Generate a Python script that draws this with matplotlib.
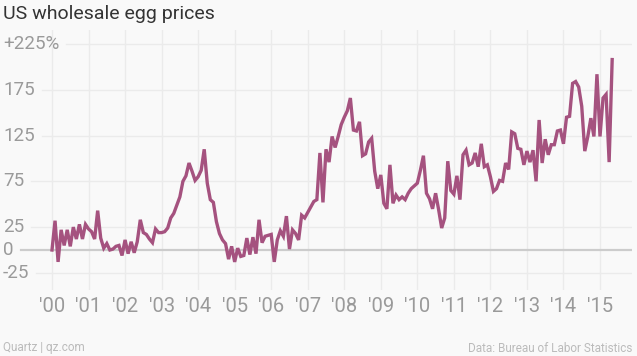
import numpy as np
import matplotlib
matplotlib.use("Agg")
from matplotlib import pyplot as plt
from matplotlib import transforms

plt.rcParams['font.family'] = ['Roboto', 'DejaVu Sans']

# monthly change in wholesale egg prices (%), Jan 2000 - May 2015
y2000 = [0, 32, -13, 22, 5, 22, 4, 25, 12, 28, 12, 28]
y2001 = [23, 20, 12, 43, 13, 2, 7, 0, 1, 4, 5, -6]
y2002 = [11, -4, 9, -3, 9, 33, 19, 17, 12, 8, 23, 19]
y2003 = [19, 20, 24, 35, 40, 49, 58, 75, 81, 95, 86, 76]
y2004 = [80, 87, 110, 73, 55, 52, 31, 18, 11, 7, -10, 4]
y2005 = [-13, 2, -7, -6, 13, -5, 14, -4, 33, 8, 15, 16]
y2006 = [17, -13, 11, 21, 15, 37, 1, 22, 18, 11, 38, 35]
y2007 = [41, 47, 53, 55, 106, 52, 110, 96, 124, 112, 124, 137]
y2008 = [145, 152, 166, 131, 130, 140, 103, 105, 118, 122, 86, 67]
y2009 = [82, 51, 45, 93, 51, 60, 55, 58, 55, 62, 67, 70]
y2010 = [73, 87, 103, 62, 56, 45, 62, 44, 24, 35, 97, 65]
y2011 = [61, 81, 55, 104, 109, 93, 95, 106, 91, 116, 91, 93]
y2012 = [80, 64, 67, 76, 75, 95, 88, 129, 127, 111, 110, 93]
y2013 = [108, 96, 109, 75, 142, 95, 121, 104, 115, 115, 130, 131]
y2014 = [116, 145, 146, 182, 184, 178, 157, 108, 124, 144, 124, 192]
y2015 = [124, 166, 170, 96, 208]

values = (y2000 + y2001 + y2002 + y2003 + y2004 + y2005 + y2006 + y2007 +
          y2008 + y2009 + y2010 + y2011 + y2012 + y2013 + y2014 + y2015)
dates = 2000 + np.arange(len(values)) / 12.0

years = list(range(2000, 2016))
year_labels = ["'%02d" % (y % 100) for y in years]
yticks = [225, 175, 125, 75, 25, 0, -25]
ytick_labels = ['+225%', '175', '125', '75', '25', '0', '-25']

W, H = 637, 356
fig = plt.figure(figsize=(W / 100, H / 100), dpi=100)
fig.patch.set_facecolor('#f9f9f9')
ax = fig.add_axes([0, 1 - 290 / H, 632 / W, 260 / H])
ax.set_facecolor('#f9f9f9')
for s in ax.spines.values():
    s.set_visible(False)
ax.set_xticks([])
ax.set_yticks([])

px_per_year = (600 - 52) / 15.0
ax.set_xlim(2000 - 52 / px_per_year, 2000 + 580 / px_per_year)
px_per_unit = 206 / 225.0
ax.set_ylim((250 - 290) / px_per_unit, (250 - 30) / px_per_unit)

for y in years:
    ax.axvline(y, color='#ebebeb', lw=1, zorder=0)

trans = transforms.blended_transform_factory(ax.transAxes, ax.transData)
labels = []
for v, lab in zip(yticks, ytick_labels):
    t = ax.text(3 / 632, v, lab, transform=trans, ha='left', va='center',
                fontsize=13.5, color='#9a9a9a')
    labels.append(t)

fig.canvas.draw()
r = fig.canvas.get_renderer()
for v, t in zip(yticks, labels):
    bb = t.get_window_extent(r)
    start = (bb.x1 + 7) / 632
    if v == 0:
        ax.axhline(v, xmin=start, color='#cccccc', lw=1.6, zorder=1)
    else:
        ax.axhline(v, xmin=start, color='#ebebeb', lw=1, zorder=0)

ax.plot(dates, values, color='#a5527f', lw=2.4, zorder=3,
        solid_joinstyle='miter')

xtrans = transforms.blended_transform_factory(ax.transData, ax.transAxes)
for y, lab in zip(years, year_labels):
    ax.text(y, (290 - 306) / 260, lab, transform=xtrans,
            ha='center', va='center', fontsize=14.5, color='#9a9a9a')

fig.text(3 / W, 1 - 14 / H, 'US wholesale egg prices', ha='left', va='center',
         fontsize=14, color='#333333')
fig.text(3 / W, 1 - 348 / H, 'Quartz | qz.com', ha='left', va='center',
         fontsize=8.5, color='#bbbbbb')
fig.text(632 / W, 1 - 348 / H, 'Data: Bureau of Labor Statistics', ha='right', va='center',
         fontsize=8.5, color='#bbbbbb')

fig.savefig('out.png', dpi=100, facecolor=fig.get_facecolor())
